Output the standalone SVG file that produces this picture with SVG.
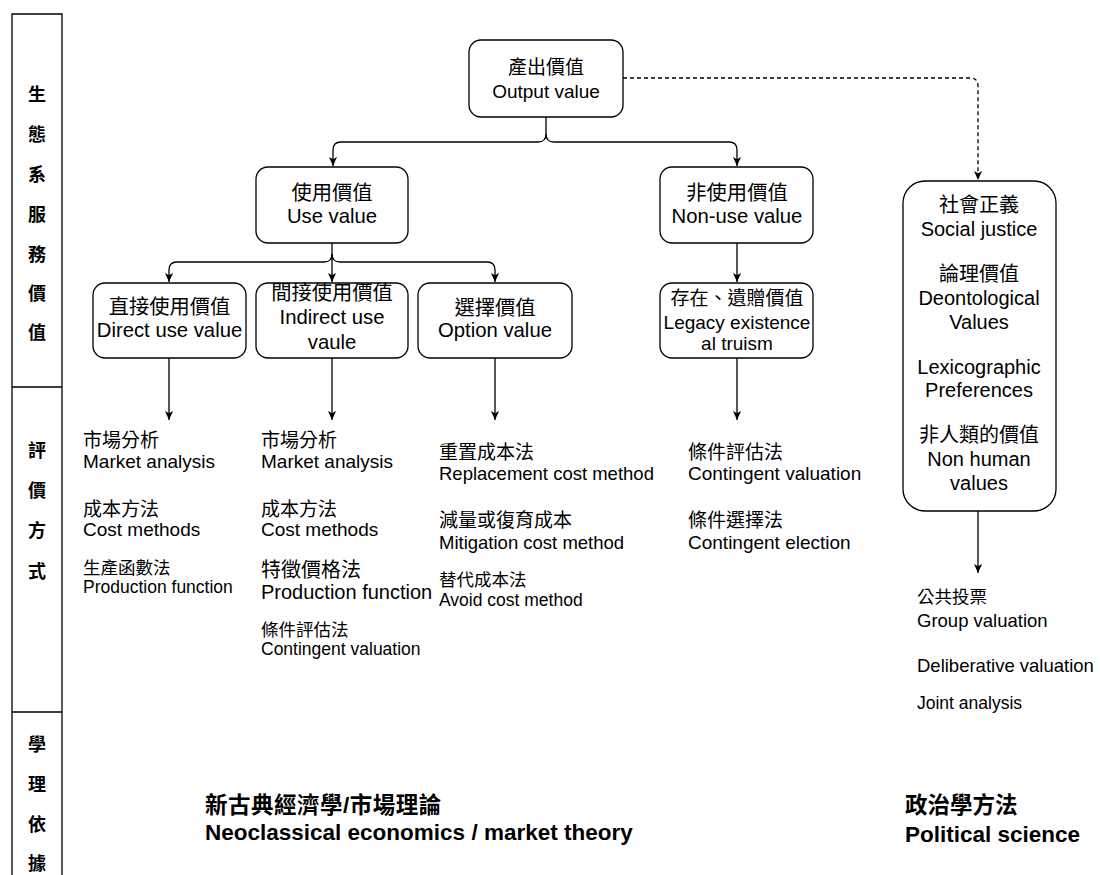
<svg xmlns="http://www.w3.org/2000/svg" width="1100" height="875" viewBox="0 0 1100 875">
<defs>
<style>
text{font-family:"Liberation Sans","Noto Sans CJK TC",Arial,sans-serif;fill:#000;}
.n{font-size:20.3px;text-anchor:middle;}
.t{font-size:19px;}
.s{font-size:17.5px;}
.side{font-size:18px;font-weight:bold;text-anchor:middle;}
.b{font-size:22.5px;font-weight:bold;}
.box{fill:#fff;stroke:#000;stroke-width:1.3;}
.c{fill:none;stroke:#000;stroke-width:1.3;}
.d{fill:none;stroke:#000;stroke-width:1.3;stroke-dasharray:4 3;}
</style>
<marker id="arr" viewBox="0 0 10 9" refX="10" refY="4.5" markerWidth="9" markerHeight="9" markerUnits="userSpaceOnUse" orient="auto">
<path d="M0,0 L10,4.5 L0,9 L2.5,4.5 Z" fill="#000"/>
</marker>
</defs>
<rect width="1100" height="875" fill="#fff"/>

<g id="side-column">
<path class="c" d="M12,876 L12,14 L62,14 L62,876 M12,387 L62,387 M12,712 L62,712"/>
<text class="side" x="37" y="101">生</text>
<text class="side" x="37" y="141">態</text>
<text class="side" x="37" y="181">系</text>
<text class="side" x="37" y="221">服</text>
<text class="side" x="37" y="261">務</text>
<text class="side" x="37" y="300">價</text>
<text class="side" x="37" y="339">值</text>
<text class="side" x="37" y="457">評</text>
<text class="side" x="37" y="497">價</text>
<text class="side" x="37" y="537">方</text>
<text class="side" x="37" y="578">式</text>
<text class="side" x="37" y="751">學</text>
<text class="side" x="37" y="791">理</text>
<text class="side" x="37" y="831">依</text>
<text class="side" x="37" y="870">據</text>
</g>

<g id="connectors">
<path class="c" d="M546,117 L546,134 Q546,142 538,142 L341,142 Q333,142 333,150 L333,166" marker-end="url(#arr)"/>
<path class="c" d="M546,134 Q546,142 554,142 L729,142 Q737,142 737,150 L737,166" marker-end="url(#arr)"/>
<path class="d" d="M623,78 L970,78 Q978,78 978,86 L978,180" marker-end="url(#arr)"/>
<path class="c" d="M332,243 L332,282" marker-end="url(#arr)"/>
<path class="c" d="M332,254 Q332,262 324,262 L177,262 Q169,262 169,270 L169,282" marker-end="url(#arr)"/>
<path class="c" d="M332,254 Q332,262 340,262 L487,262 Q495,262 495,270 L495,282" marker-end="url(#arr)"/>
<path class="c" d="M737,243 L737,282" marker-end="url(#arr)"/>
<path class="c" d="M169,358 L169,420" marker-end="url(#arr)"/>
<path class="c" d="M332,358 L332,420" marker-end="url(#arr)"/>
<path class="c" d="M495,358 L495,420" marker-end="url(#arr)"/>
<path class="c" d="M737,358 L737,420" marker-end="url(#arr)"/>
<path class="c" d="M978,511 L978,573" marker-end="url(#arr)"/>
</g>

<g id="output-value">
<rect class="box" x="469" y="40" width="154" height="77" rx="12"/>
<text class="n" x="546" y="74" style="font-size:19px">產出價值</text>
<text class="n" x="546" y="98" style="font-size:19px">Output value</text>
</g>
<g id="use-value">
<rect class="box" x="256" y="167" width="152" height="76" rx="12"/>
<text class="n" x="332" y="200">使用價值</text>
<text class="n" x="332" y="223">Use value</text>
</g>
<g id="non-use-value">
<rect class="box" x="660" y="167" width="153" height="76" rx="12"/>
<text class="n" x="737" y="200">非使用價值</text>
<text class="n" x="737" y="223">Non-use value</text>
</g>
<g id="social-justice">
<rect class="box" x="903" y="181" width="153" height="330" rx="22"/>
<text class="n" x="979" y="212" style="font-size:20px">社會正義</text>
<text class="n" x="979" y="236" style="font-size:20px">Social justice</text>
<text class="n" x="979" y="281" style="font-size:20px">論理價值</text>
<text class="n" x="979" y="305" style="font-size:20px">Deontological</text>
<text class="n" x="979" y="329" style="font-size:20px">Values</text>
<text class="n" x="979" y="374" style="font-size:20px">Lexicographic</text>
<text class="n" x="979" y="397" style="font-size:20px">Preferences</text>
<text class="n" x="979" y="442" style="font-size:20px">非人類的價值</text>
<text class="n" x="979" y="466" style="font-size:20px">Non human</text>
<text class="n" x="979" y="490" style="font-size:20px">values</text>
</g>
<g id="direct-use-value">
<rect class="box" x="93" y="283" width="153" height="75" rx="12"/>
<text class="n" x="169.5" y="314">直接使用價值</text>
<text class="n" x="169.5" y="337">Direct use value</text>
</g>
<g id="indirect-use-value">
<rect class="box" x="256" y="283" width="152" height="75" rx="12"/>
<text class="n" x="332" y="300">間接使用價值</text>
<text class="n" x="332" y="324">Indirect use</text>
<text class="n" x="332" y="349">vaule</text>
</g>
<g id="option-value">
<rect class="box" x="418" y="283" width="154" height="75" rx="12"/>
<text class="n" x="495" y="315">選擇價值</text>
<text class="n" x="495" y="337">Option value</text>
</g>
<g id="legacy-value">
<rect class="box" x="660" y="283" width="153" height="75" rx="12"/>
<text class="n" x="737" y="305" style="font-size:19px">存在、遺贈價值</text>
<text class="n" x="737" y="329" style="font-size:19px">Legacy existence</text>
<text class="n" x="737" y="350" style="font-size:19px">al truism</text>
</g>

<g id="methods-direct">
<text class="t" x="83" y="447">市場分析</text>
<text class="t" x="83" y="468">Market analysis</text>
<text class="t" x="83" y="516">成本方法</text>
<text class="t" x="83" y="536">Cost methods</text>
<text class="s" x="83" y="574">生產函數法</text>
<text class="s" x="83" y="593">Production function</text>
</g>
<g id="methods-indirect">
<text class="t" x="261" y="447">市場分析</text>
<text class="t" x="261" y="468">Market analysis</text>
<text class="t" x="261" y="516">成本方法</text>
<text class="t" x="261" y="536">Cost methods</text>
<text x="261" y="577" style="font-size:20px">特徵價格法</text>
<text x="261" y="599" style="font-size:20px">Production function</text>
<text class="s" x="261" y="636">條件評估法</text>
<text class="s" x="261" y="655">Contingent valuation</text>
</g>
<g id="methods-option">
<text class="t" x="439" y="459">重置成本法</text>
<text x="439" y="480" style="font-size:18.5px">Replacement cost method</text>
<text class="t" x="439" y="527">減量或復育成本</text>
<text x="439" y="549" style="font-size:18.5px">Mitigation cost method</text>
<text class="s" x="439" y="586">替代成本法</text>
<text class="s" x="439" y="606">Avoid cost method</text>
</g>
<g id="methods-nonuse">
<text class="t" x="688" y="459">條件評估法</text>
<text class="t" x="688" y="480">Contingent valuation</text>
<text class="t" x="688" y="527">條件選擇法</text>
<text class="t" x="688" y="549">Contingent election</text>
</g>
<g id="methods-political">
<text class="s" x="917" y="603">公共投票</text>
<text x="917" y="627" style="font-size:18.5px">Group valuation</text>
<text x="917" y="672" style="font-size:18.5px">Deliberative valuation</text>
<text x="917" y="709" style="font-size:17.5px">Joint analysis</text>
</g>

<g id="theory">
<text class="b" x="205" y="813" style="letter-spacing:0.5px">新古典經濟學/市場理論</text>
<text class="b" x="205" y="840">Neoclassical economics / market theory</text>
<text class="b" x="905" y="813">政治學方法</text>
<text class="b" x="905" y="842">Political science</text>
</g>
</svg>
